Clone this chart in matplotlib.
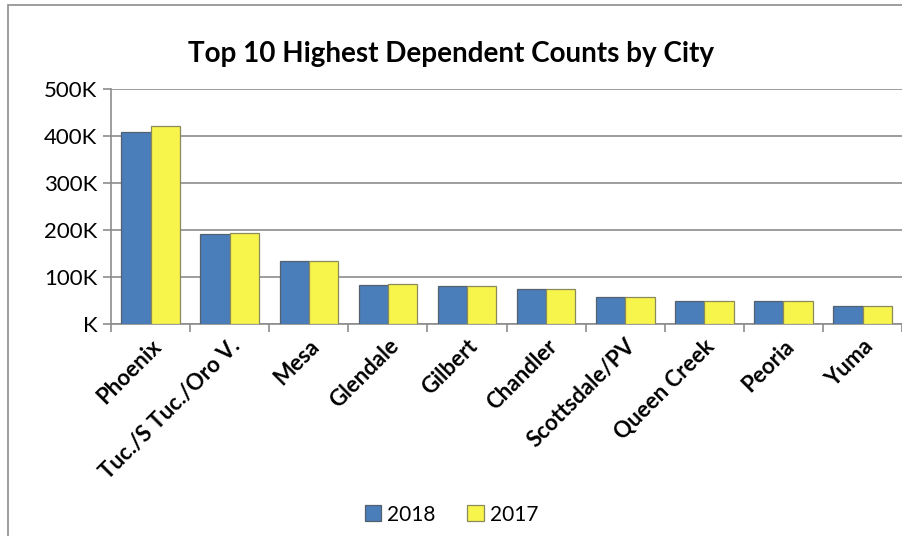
import numpy as np
import matplotlib.pyplot as plt
from matplotlib.patches import Rectangle
from matplotlib.ticker import FuncFormatter

cities = ['Phoenix', 'Tuc./S Tuc./Oro V.', 'Mesa', 'Glendale', 'Gilbert',
          'Chandler', 'Scottsdale/PV', 'Queen Creek', 'Peoria', 'Yuma']
counts_2018 = [409000, 191000, 135000, 83000, 81000, 75000, 57000, 50000, 50000, 39000]
counts_2017 = [421000, 193000, 135000, 86000, 81000, 75000, 57000, 49000, 49000, 39000]

plt.rcParams['font.family'] = ['Lato', 'DejaVu Sans']

fig = plt.figure(figsize=(9.03, 5.36), dpi=100)
ax = fig.add_axes([0.123, 0.395, 0.876, 0.439])

x = np.arange(len(cities))
w = 0.37
blue = '#4A7EBB'
yellow = '#F7F54C'
ax.bar(x - w / 2, counts_2018, w, color=blue, edgecolor='#55606e', linewidth=0.9,
       label='2018', zorder=3)
ax.bar(x + w / 2, counts_2017, w, color=yellow, edgecolor='#8a8a5a', linewidth=0.9,
       label='2017', zorder=3)

ax.set_xlim(-0.5, len(cities) - 0.5)
ax.set_ylim(0, 500000)
ax.set_yticks(np.arange(0, 500001, 100000))
ax.yaxis.set_major_formatter(FuncFormatter(lambda v, p: '%dK' % (v / 1000) if v else 'K'))
ax.grid(axis='y', color='#8c8c8c', linewidth=1.2, zorder=0)

ax.set_xticks(x)
ax.set_xticklabels(cities, rotation=45, ha='right', rotation_mode='anchor',
                   fontsize=16, fontweight='bold')
ax.set_xticks(np.arange(-0.5, len(cities)), minor=True)
ax.tick_params(axis='x', which='major', length=0, pad=8)
ax.tick_params(axis='x', which='minor', length=6, color='#8c8c8c', width=1.2)
ax.tick_params(axis='y', length=6, color='#8c8c8c', width=1.2, labelsize=16, pad=4)

for s in ['top', 'right']:
    ax.spines[s].set_visible(False)
for s in ['left', 'bottom']:
    ax.spines[s].set_color('#8c8c8c')
    ax.spines[s].set_linewidth(1.2)

fig.text(0.5, 0.9, 'Top 10 Highest Dependent Counts by City', ha='center',
         va='center', fontsize=20, fontweight='bold')

fig.legend(loc='center', bbox_to_anchor=(0.5, 0.04), ncol=2, frameon=False,
           fontsize=15, handlelength=0.8, handleheight=0.8, handletextpad=0.3,
           columnspacing=1.5)

fig.patches.append(Rectangle((0.009, -0.01), 1.0, 1.0, transform=fig.transFigure,
                             fill=False, edgecolor='#8c8c8c', linewidth=1.2))

fig.savefig('out.png', dpi=100)
